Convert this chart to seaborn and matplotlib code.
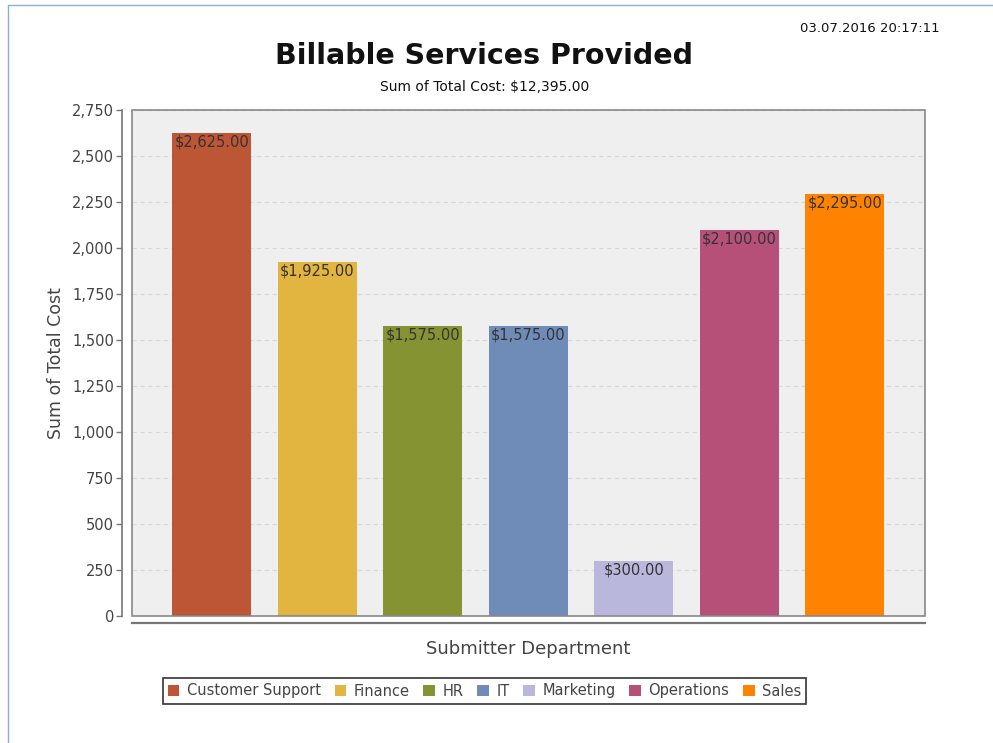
import matplotlib
matplotlib.use("Agg")
import matplotlib.pyplot as plt
import seaborn as sns
import pandas as pd
from matplotlib.patches import Rectangle, Patch
from matplotlib.ticker import FuncFormatter, MultipleLocator

departments = ["Customer Support", "Finance", "HR", "IT", "Marketing", "Operations", "Sales"]
total_cost = [2625, 1925, 1575, 1575, 300, 2100, 2295]
colors = ["#BD5634", "#E2B440", "#869333", "#6F8CB8", "#B9B7DC", "#B65078", "#FF8300"]

df = pd.DataFrame({"Submitter Department": departments, "Sum of Total Cost": total_cost})

sns.set_style("white")
plt.rcParams["font.family"] = ["DejaVu Sans"]

fig = plt.figure(figsize=(9.93, 7.43), dpi=100)
ax = fig.add_axes([132 / 993, 1 - 616 / 743, (925 - 132) / 993, (616 - 110) / 743])
ax.set_facecolor("#EFEFEF")

sns.barplot(data=df, x="Submitter Department", y="Sum of Total Cost",
            hue="Submitter Department", palette=colors, width=0.75,
            dodge=False, legend=False, ax=ax, saturation=1, linewidth=0)

ax.set_ylim(0, 2750)
ax.set_xlim(-0.755, 6.76)
ax.yaxis.set_major_locator(MultipleLocator(250))
ax.yaxis.set_major_formatter(FuncFormatter(lambda v, p: f"{int(v):,}"))
ax.set_xticks([])
ax.grid(axis="y", color="#D8D8D8", linestyle=(0, (4, 3)), linewidth=0.8)
ax.set_axisbelow(True)

# plot-area outline
ax.add_patch(Rectangle((0, 0), 1, 1, transform=ax.transAxes, fill=False,
                       edgecolor="#888888", linewidth=1.2, zorder=5, clip_on=False))

for side in ["top", "right"]:
    ax.spines[side].set_visible(False)
ax.spines["left"].set_position(("outward", 7))
ax.spines["bottom"].set_position(("outward", 5))
ax.spines["left"].set_color("#777777")
ax.spines["bottom"].set_color("#777777")
ax.spines["left"].set_linewidth(1.2)
ax.spines["bottom"].set_linewidth(1.6)
ax.tick_params(axis="y", which="major", length=4, width=1, color="#777777",
               labelsize=10.5, labelcolor="#444444", left=True, pad=2)

for i, v in enumerate(total_cost):
    ax.text(i, v - 8, f"${v:,.2f}", ha="center", va="top",
            fontsize=10.5, color="#333333", zorder=6)

ax.set_ylabel("Sum of Total Cost", fontsize=12.5, color="#444444", labelpad=5)
ax.set_xlabel("Submitter Department", fontsize=13, color="#444444", labelpad=12)

fig.text(0.4875, 1 - 56 / 743, "Billable Services Provided", ha="center", va="center",
         fontsize=20.5, fontweight="bold", color="#111111")
fig.text(0.4885, 1 - 87 / 743, "Sum of Total Cost: $12,395.00", ha="center",
         va="center", fontsize=10, color="#111111")
fig.text(940 / 993, 1 - 28 / 743, "03.07.2016 20:17:11", ha="right", va="center",
         fontsize=9.5, color="#111111")

handles = [Patch(facecolor=c, edgecolor="none", label=d) for d, c in zip(departments, colors)]
leg = fig.legend(handles=handles, loc="center", bbox_to_anchor=(484.5 / 993, 1 - 691 / 743),
                 ncol=7, frameon=True, fancybox=False, fontsize=10.5,
                 handlelength=0.8, handleheight=0.8, handletextpad=0.5,
                 columnspacing=0.95, borderpad=0.35, labelcolor="#444444")
leg.get_frame().set_edgecolor("#000000")
leg.get_frame().set_linewidth(1.2)

# thin blue page border on the left and top
fig.add_artist(plt.Line2D([8 / 993, 8 / 993], [0, 1 - 5 / 743], color="#8AAEE0", linewidth=1))
fig.add_artist(plt.Line2D([8 / 993, 1], [1 - 5 / 743, 1 - 5 / 743], color="#8AAEE0", linewidth=1))

fig.savefig("out.png", dpi=100, facecolor="white")
